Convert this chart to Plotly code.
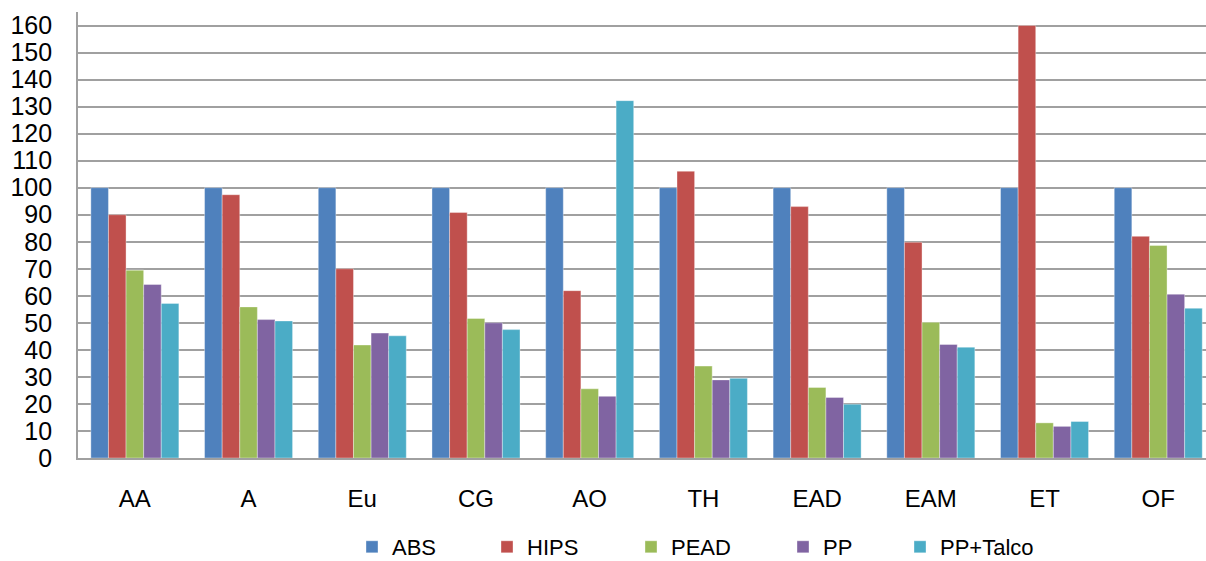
import plotly.graph_objects as go

categories = ["AA", "A", "Eu", "CG", "AO", "TH", "EAD", "EAM", "ET", "OF"]
abs_vals = [100, 100, 100, 100, 100, 100, 100, 100, 100, 100]
hips_vals = [90, 97.4, 70, 90.8, 61.9, 106.1, 93.0, 79.8, 160, 82.0]
pead_vals = [69.5, 55.9, 41.8, 51.6, 25.6, 34.0, 26.1, 50.2, 13.0, 78.6]
pp_vals = [64.2, 51.2, 46.2, 50.0, 22.8, 28.9, 22.4, 42.0, 11.7, 60.6]
pptalco_vals = [57.2, 50.7, 45.2, 47.5, 132.2, 29.5, 19.9, 41.0, 13.5, 55.4]

series_names = ["ABS", "HIPS", "PEAD", "PP", "PP+Talco"]
series_values = [abs_vals, hips_vals, pead_vals, pp_vals, pptalco_vals]
series_colors = ["#4F81BD", "#C0504D", "#9BBB59", "#8064A2", "#4BACC6"]

W, H = 1206, 561
L, R, T, B = 78, 0, 12, 103
plot_w = W - L - R
plot_h = H - T - B

# legend entry left edges (pixels), one legend per series
legend_px = [352, 487, 631, 783, 900]
legend_keys = ["legend", "legend2", "legend3", "legend4", "legend5"]
legend_center_px = 547

font_family = "Liberation Sans, Arial, sans-serif"

fig = go.Figure()
for name, vals, color, lk in zip(series_names, series_values, series_colors, legend_keys):
    fig.add_trace(go.Bar(
        x=categories, y=vals, name=name, legend=lk,
        marker=dict(color=color, line=dict(color="rgba(255,255,255,0.6)", width=0.6)),
    ))

legend_y = -(legend_center_px - (T + plot_h)) / plot_h

layout_legends = {}
for lk, px in zip(legend_keys, legend_px):
    layout_legends[lk] = dict(
        orientation="h", x=(px - L) / plot_w, xanchor="left",
        y=legend_y, yanchor="middle",
        font=dict(size=22, family=font_family, color="#000000"),
        itemwidth=30, bgcolor="rgba(0,0,0,0)", borderwidth=0,
    )

fig.update_layout(
    width=W, height=H,
    paper_bgcolor="white", plot_bgcolor="white",
    barmode="group", bargap=0.226, bargroupgap=0,
    margin=dict(l=L, r=R, t=T, b=B, pad=0, autoexpand=False),
    font=dict(family=font_family, size=24, color="#000000"),
    showlegend=True,
    xaxis=dict(
        range=[-0.5, 9.42], automargin=False,
        showline=True, linecolor="#A0A0A0", linewidth=1.8,
        ticks="", tickfont=dict(size=24), showgrid=False,
        ticklabelstandoff=18,
    ),
    yaxis=dict(
        range=[0, 165], automargin=False, tickmode="array",
        tickvals=list(range(0, 161, 10)),
        ticktext=[str(v) for v in range(0, 161, 10)],
        showgrid=True, gridcolor="#A0A0A0", gridwidth=1.5,
        showline=True, linecolor="#A0A0A0", linewidth=1.8,
        ticks="", tickfont=dict(size=25), ticklabelstandoff=19,
        zeroline=False,
    ),
    **layout_legends,
)

fig.write_html(
    "out.html",
    config={"displayModeBar": False},
    post_script="document.body.style.margin='0';document.body.style.overflow='hidden';",
)
